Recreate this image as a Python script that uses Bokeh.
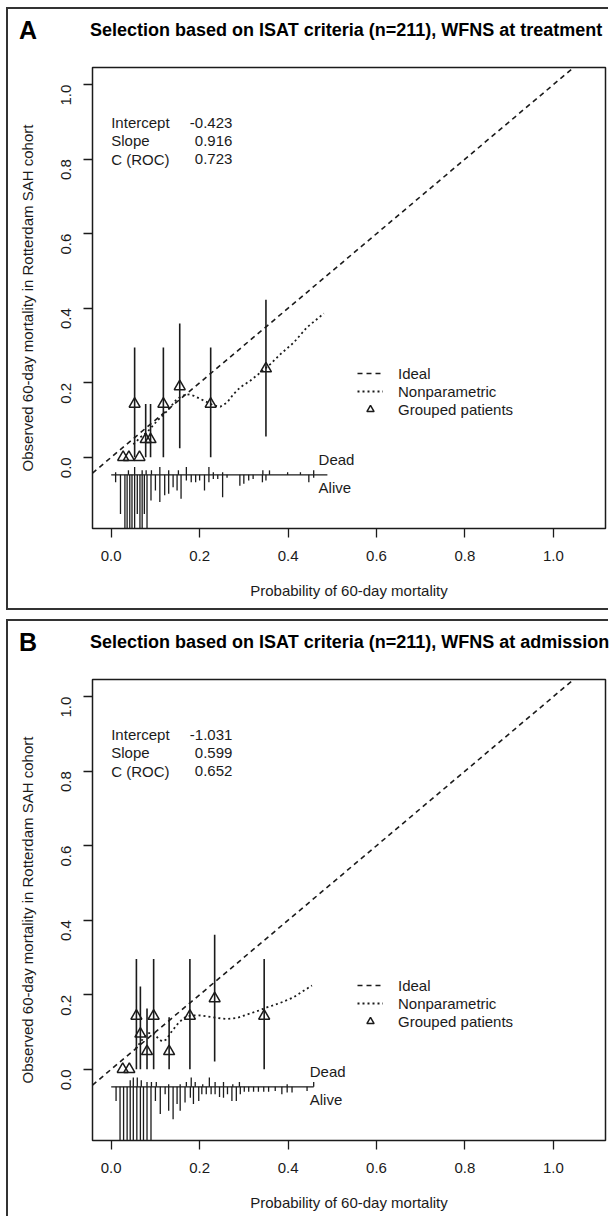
import math
from bokeh.plotting import figure
from bokeh.models import (FixedTicker, PrintfTickFormatter, Legend,
                          LegendItem, Range1d, Div)
from bokeh.layouts import column
from bokeh.embed import file_html
from bokeh.resources import INLINE
from bokeh.core.properties import value

FONT = "Liberation Sans"
INK = "#1b1b1b"
NAN = float("nan")

# ---------------- shared texts / ticks ----------------
x_ticks = [0.0, 0.2, 0.4, 0.6, 0.8, 1.0]
y_ticks = [0.0, 0.2, 0.4, 0.6, 0.8, 1.0]
x_label = "Probability of 60-day mortality"
y_label = "Observed 60-day mortality in Rotterdam SAH cohort"
stat_names = ["Intercept", "Slope", "C (ROC)"]
legend_labels = ["Ideal", "Nonparametric", "Grouped patients"]

# ---------------- panel A ----------------
a_letter = "A"
a_title = "Selection based on ISAT criteria (n=211), WFNS at treatment"
a_stats = ["-0.423", "0.916", "0.723"]
a_group_x = [0.027, 0.040, 0.053, 0.064, 0.078, 0.089, 0.118, 0.155, 0.225, 0.350]
a_group_y = [0.0, 0.0, 0.143, 0.0, 0.048, 0.048, 0.143, 0.190, 0.143, 0.238]
a_ci_lo = [NAN, NAN, 0.0, NAN, 0.0, 0.0, 0.0, 0.024, 0.0, 0.056]
a_ci_hi = [NAN, NAN, 0.295, NAN, 0.143, 0.143, 0.295, 0.359, 0.295, 0.423]
a_np_x = [0.050, 0.055, 0.066, 0.081, 0.104, 0.127, 0.149, 0.170, 0.187, 0.210,
          0.232, 0.247, 0.262, 0.277, 0.292, 0.315, 0.338, 0.360, 0.383, 0.413,
          0.443, 0.481]
a_np_y = [0.035, 0.040, 0.054, 0.067, 0.098, 0.125, 0.157, 0.170, 0.165, 0.152,
          0.139, 0.136, 0.147, 0.170, 0.188, 0.206, 0.228, 0.250, 0.277, 0.308,
          0.349, 0.386]
a_pred_range = [0.0, 0.489]
a_dead_x = [0.010, 0.039, 0.053, 0.070, 0.079, 0.091, 0.110, 0.130, 0.152, 0.170,
            0.221, 0.231, 0.252, 0.343, 0.358, 0.399, 0.428, 0.458]
a_dead_h = [0.007, 0.012, 0.021, 0.012, 0.012, 0.012, 0.021, 0.012, 0.012, 0.021,
            0.021, 0.007, 0.007, 0.012, 0.012, 0.007, 0.007, 0.012]
a_alive_x = [0.010, 0.021, 0.031, 0.036, 0.042, 0.047, 0.053, 0.059, 0.065, 0.070,
             0.075, 0.081, 0.090, 0.100, 0.110, 0.121, 0.130, 0.140, 0.149, 0.158,
             0.170, 0.181, 0.191, 0.200, 0.211, 0.221, 0.231, 0.241, 0.252, 0.262,
             0.291, 0.300, 0.311, 0.321, 0.342, 0.350, 0.447, 0.458]
a_alive_h = [0.020, 0.105, 0.200, 0.200, 0.200, 0.200, 0.200, 0.105, 0.200, 0.200,
             0.105, 0.200, 0.069, 0.042, 0.073, 0.055, 0.051, 0.033, 0.042, 0.064,
             0.015, 0.020, 0.020, 0.015, 0.042, 0.020, 0.011, 0.011, 0.060, 0.008,
             0.029, 0.024, 0.015, 0.011, 0.020, 0.015, 0.020, 0.008]

# ---------------- panel B ----------------
b_letter = "B"
b_title = "Selection based on ISAT criteria (n=211), WFNS at admission"
b_stats = ["-1.031", "0.599", "0.652"]
b_group_x = [0.026, 0.041, 0.057, 0.066, 0.081, 0.096, 0.131, 0.178, 0.234, 0.346]
b_group_y = [0.0, 0.0, 0.143, 0.095, 0.048, 0.143, 0.048, 0.143, 0.190, 0.143]
b_ci_lo = [NAN, NAN, 0.0, 0.0, 0.0, 0.0, 0.0, 0.0, 0.021, 0.0]
b_ci_hi = [NAN, NAN, 0.296, 0.222, 0.163, 0.296, 0.140, 0.296, 0.361, 0.296]
b_np_x = [0.055, 0.062, 0.073, 0.085, 0.096, 0.107, 0.115, 0.125, 0.134, 0.149,
          0.164, 0.179, 0.198, 0.217, 0.239, 0.262, 0.285, 0.307, 0.330, 0.352,
          0.382, 0.412, 0.454]
b_np_y = [0.055, 0.066, 0.084, 0.097, 0.097, 0.082, 0.075, 0.080, 0.097, 0.120,
          0.138, 0.144, 0.145, 0.142, 0.138, 0.135, 0.138, 0.147, 0.156, 0.166,
          0.178, 0.193, 0.225]
b_pred_range = [0.0, 0.458]
b_dead_x = [0.043, 0.050, 0.059, 0.068, 0.081, 0.091, 0.102, 0.130, 0.156, 0.170,
            0.181, 0.190, 0.207, 0.222, 0.235, 0.254, 0.275, 0.290, 0.398, 0.458]
b_dead_h = [0.018, 0.025, 0.025, 0.018, 0.013, 0.013, 0.013, 0.007, 0.007, 0.013,
            0.025, 0.013, 0.007, 0.025, 0.013, 0.013, 0.007, 0.013, 0.007, 0.013]
b_alive_x = [0.011, 0.020, 0.028, 0.036, 0.043, 0.050, 0.058, 0.066, 0.073, 0.081,
             0.090, 0.100, 0.111, 0.122, 0.130, 0.140, 0.149, 0.156, 0.167, 0.179,
             0.186, 0.198, 0.205, 0.215, 0.226, 0.235, 0.245, 0.254, 0.263, 0.273,
             0.283, 0.292, 0.301, 0.311, 0.322, 0.333, 0.345, 0.356, 0.371, 0.386,
             0.398, 0.409, 0.443]
b_alive_h = [0.038, 0.200, 0.200, 0.200, 0.200, 0.200, 0.200, 0.200, 0.200, 0.200,
             0.200, 0.038, 0.073, 0.020, 0.064, 0.087, 0.046, 0.064, 0.042, 0.029,
             0.046, 0.038, 0.020, 0.020, 0.020, 0.020, 0.027, 0.029, 0.020, 0.038,
             0.038, 0.020, 0.013, 0.013, 0.013, 0.013, 0.013, 0.013, 0.011, 0.020,
             0.015, 0.015, 0.011]

# ---------------- layout constants ----------------
X_LO, X_HI = -0.0423, 1.118
Y_LO, Y_HI = -0.191, 1.046
BASE_Y = -0.047          # baseline of the risk distribution spikes
W = 600
HEAD_H = 48


def make_header(letter, title):
    html = (
        f'<div style="position:relative;width:{W}px;height:{HEAD_H}px;'
        f"font-family:'{FONT}',Arial,sans-serif;color:#000;\">"
        '<span style="position:absolute;left:11px;top:6px;line-height:30px;'
        f'font-size:25px;font-weight:bold;white-space:nowrap;">{letter}</span>'
        '<span style="position:absolute;left:82px;top:9px;line-height:24px;'
        f'font-size:18px;font-weight:bold;white-space:nowrap;">{title}</span>'
        '</div>'
    )
    return Div(text=html, width=W, height=HEAD_H,
               styles={"margin": "0", "padding": "0"})


def make_panel(stats, gx, gy, lo, hi, npx, npy, prange,
               dx, dh, ax, ah, label_x, height, bottom):
    p = figure(width=W, height=height, output_backend="svg",
               toolbar_location=None, title=None,
               x_range=Range1d(X_LO, X_HI), y_range=Range1d(Y_LO, Y_HI),
               min_border_left=84, min_border_right=3,
               min_border_top=10, min_border_bottom=bottom)
    p.background_fill_color = "white"
    p.border_fill_color = "white"
    p.outline_line_color = INK
    p.outline_line_width = 1.5
    p.outline_line_alpha = 1.0
    p.xgrid.visible = False
    p.ygrid.visible = False

    for ax_ in (p.xaxis[0], p.yaxis[0]):
        ax_.axis_line_color = None
        ax_.major_tick_line_color = INK
        ax_.major_tick_line_width = 1.3
        ax_.major_tick_in = 0
        ax_.major_tick_out = 9
        ax_.minor_tick_line_color = None
        ax_.major_label_text_font = FONT
        ax_.major_label_text_font_size = "15px"
        ax_.major_label_text_color = INK
        ax_.axis_label_text_font = FONT
        ax_.axis_label_text_font_size = "15px"
        ax_.axis_label_text_font_style = "normal"
        ax_.axis_label_text_color = INK
        ax_.formatter = PrintfTickFormatter(format="%.1f")
        ax_.axis_label_standoff = 18
    p.xaxis.major_label_standoff = 13
    p.yaxis.major_label_standoff = 17
    p.xaxis.ticker = FixedTicker(ticks=x_ticks)
    p.yaxis.ticker = FixedTicker(ticks=y_ticks)
    p.xaxis.axis_label = x_label
    p.yaxis.axis_label = y_label
    p.yaxis.major_label_orientation = math.pi / 2

    # ideal line across the whole range
    r_ideal = p.line([X_LO, X_HI], [X_LO, X_HI], line_color=INK,
                     line_width=1.6, line_dash="5 4")
    # nonparametric curve
    r_np = p.line(npx, npy, line_color=INK, line_width=1.8, line_dash="2 3")
    # error bars
    p.segment(x0=gx, y0=lo, x1=gx, y1=hi, line_color=INK, line_width=1.6)
    # grouped patients
    r_tri = p.scatter(gx, gy, marker="triangle", size=11, fill_color=None,
                      line_color=INK, line_width=1.5)

    # risk distribution
    p.segment(x0=[prange[0]], y0=[BASE_Y], x1=[prange[1]], y1=[BASE_Y],
              line_color=INK, line_width=1.3)
    p.segment(x0=dx, y0=[BASE_Y] * len(dx), x1=dx,
              y1=[BASE_Y + h for h in dh], line_color=INK, line_width=1.3)
    p.segment(x0=ax, y0=[BASE_Y] * len(ax), x1=ax,
              y1=[BASE_Y - h for h in ah], line_color=INK, line_width=1.3)
    p.text(x=[label_x, label_x], y=[BASE_Y + 0.041, BASE_Y - 0.033],
           text=["Dead", "Alive"], text_font=value(FONT),
           text_font_size="15px", text_color=INK, text_baseline="middle",
           text_align="left")

    # statistics block
    p.text(x=[0.0] * 3, y=[0.898, 0.849, 0.800], text=stat_names,
           text_font=value(FONT), text_font_size="15px", text_color=INK,
           text_baseline="middle", text_align="left")
    p.text(x=[0.274] * 3, y=[0.898, 0.849, 0.800], text=stats,
           text_font=value(FONT), text_font_size="15px", text_color=INK,
           text_baseline="middle", text_align="right")

    legend = Legend(items=[LegendItem(label=legend_labels[0], renderers=[r_ideal]),
                           LegendItem(label=legend_labels[1], renderers=[r_np]),
                           LegendItem(label=legend_labels[2], renderers=[r_tri])],
                    location=(265, 110), border_line_color=None,
                    background_fill_alpha=0, padding=0, margin=0, spacing=0,
                    glyph_width=26, glyph_height=18, label_height=18,
                    label_standoff=15, label_text_font=FONT,
                    label_text_font_size="15px", label_text_color=INK)
    p.add_layout(legend)
    return p


hA = make_header(a_letter, a_title)
pA = make_panel(a_stats, a_group_x, a_group_y, a_ci_lo,
                a_ci_hi, a_np_x, a_np_y, a_pred_range, a_dead_x, a_dead_h,
                a_alive_x, a_alive_h, 0.469, 599 - HEAD_H, 80)
hB = make_header(b_letter, b_title)
pB = make_panel(b_stats, b_group_x, b_group_y, b_ci_lo,
                b_ci_hi, b_np_x, b_np_y, b_pred_range, b_dead_x, b_dead_h,
                b_alive_x, b_alive_h, 0.449, 595 - HEAD_H, 76)

boxA = column(hA, pA, spacing=0,
              styles={"border-left": "2px solid #333",
                      "border-top": "2px solid #333",
                      "border-bottom": "2px solid #333",
                      "margin-top": "7px", "margin-left": "6px"})
boxB = column(hB, pB, spacing=0,
              styles={"border-left": "2px solid #333",
                      "border-top": "2px solid #333",
                      "margin-top": "9px", "margin-left": "6px"})

layout = column(boxA, boxB, spacing=0)
open("out.html", "w").write(file_html(layout, INLINE))
